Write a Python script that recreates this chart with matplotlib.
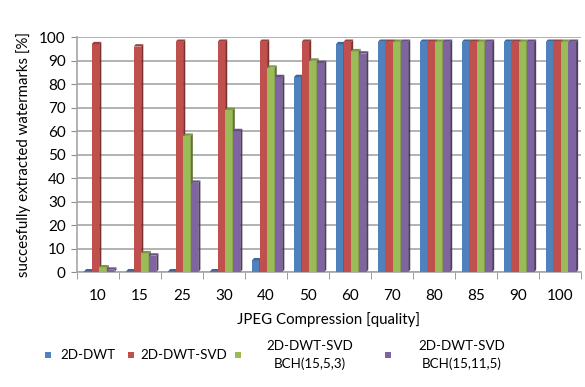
import matplotlib
matplotlib.use("Agg")
import matplotlib.pyplot as plt
from matplotlib.patches import Polygon, Rectangle
from matplotlib.colors import to_rgb
import numpy as np

plt.rcParams['font.family'] = ['Lato', 'DejaVu Sans']

# --- data ---
quality = ['10', '15', '25', '30', '40', '50', '60', '70', '80', '85', '90', '100']
dwt = [0.3, 0.3, 0.3, 0.3, 5, 83, 97, 98, 98, 98, 98, 98]
dwt_svd = [97, 96, 98, 98, 98, 98, 98, 98, 98, 98, 98, 98]
bch_553 = [2, 8, 58, 69, 87, 90, 94, 98, 98, 98, 98, 98]
bch_1115 = [1, 7, 38, 60, 83, 89, 93, 98, 98, 98, 98, 98]

labels = ['2D-DWT', '2D-DWT-SVD', '2D-DWT-SVD\nBCH(15,5,3)', '2D-DWT-SVD\nBCH(15,11,5)']
colors = ['#4F81BD', '#C0504D', '#9BBB59', '#8064A2']
series = [dwt, dwt_svd, bch_553, bch_1115]

FS = 10.8


def shade(c, f):
    r, g, b = to_rgb(c)
    return (r * f, g * f, b * f)


W, H = 585, 387
fig = plt.figure(figsize=(W / 100, H / 100), dpi=100)
ax = fig.add_axes([0.1316, 0.297, 0.861, 0.607])

x = np.arange(len(quality))
w = 0.18
dx, dy = 0.05, 1.0  # fake depth of the 3D bars

for k, (vals, c) in enumerate(zip(series, colors)):
    xs = x - 0.4 + 0.07 + k * w
    ax.bar(xs, vals, width=w, align='edge', color=c, edgecolor='none', zorder=3)
    for xi, h in zip(xs, vals):
        side = Polygon([(xi + w, 0), (xi + w + dx, dy), (xi + w + dx, h + dy), (xi + w, h)],
                       closed=True, facecolor=shade(c, 0.62), edgecolor='none',
                       zorder=3, clip_on=False)
        top = Polygon([(xi, h), (xi + w, h), (xi + w + dx, h + dy), (xi + dx, h + dy)],
                      closed=True, facecolor=shade(c, 0.8), edgecolor='none',
                      zorder=3, clip_on=False)
        ax.add_patch(side)
        ax.add_patch(top)

ax.set_xlim(-0.5, len(quality) - 0.5)
ax.set_ylim(0, 100)
ax.set_yticks(range(0, 101, 10))
ax.set_xticks(x)
ax.set_xticklabels(quality)
ax.set_xticks(np.arange(-0.5, len(quality)), minor=True)
ax.tick_params(axis='x', which='major', length=0, pad=12, labelsize=11)
ax.tick_params(axis='x', which='minor', length=5, color='#8c8c8c')
ax.tick_params(axis='y', length=4, color='#8c8c8c', labelsize=11, pad=4)

ax.yaxis.grid(True, color='#a6a6a6', linewidth=1.2, zorder=0)
ax.set_axisbelow(True)
for s in ['top', 'right']:
    ax.spines[s].set_visible(False)
for s in ['left', 'bottom']:
    ax.spines[s].set_color('#a6a6a6')
    ax.spines[s].set_linewidth(1.2)

ax.set_ylabel('succesfully extracted watermarks [%]', fontsize=FS, labelpad=6)
ax.set_xlabel('JPEG Compression [quality]', fontsize=FS, labelpad=7)

# legend laid out by hand: square key, then text (two-line entries are centred)
key_x = [45, 128, 235, 385]
txt_x = [60, 140, 310, 462]
txt_ha = ['left', 'left', 'center', 'center']
ly = 355
for kx, tx, ha, lab, c in zip(key_x, txt_x, txt_ha, labels, colors):
    fig.patches.append(Rectangle((kx / W, 1 - (ly + 3) / H), 6 / W, 6 / H,
                                 transform=fig.transFigure, facecolor=c,
                                 edgecolor='none'))
    fig.text(tx / W, 1 - ly / H, lab, ha=ha, va='center', multialignment='center',
             fontsize=9.6, linespacing=1.5)

fig.savefig('out.png', dpi=100)
